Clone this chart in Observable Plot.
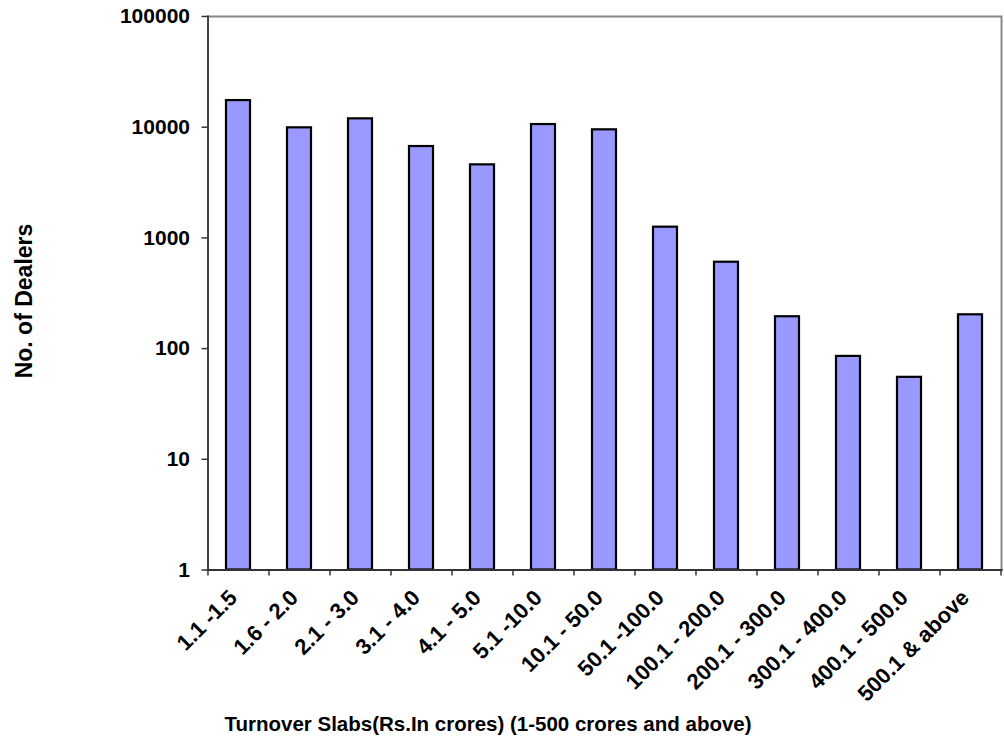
<!DOCTYPE html>
<html><head><meta charset="utf-8">
<script src="https://cdn.jsdelivr.net/npm/d3@7"></script>
<script src="https://cdn.jsdelivr.net/npm/@observablehq/plot@0.6"></script>
<style>
body{margin:0;background:#fff;}
#wrap{position:relative;width:1004px;height:741px;font-family:"Liberation Sans",Arial,sans-serif;font-weight:bold;color:#000;}
#ylab{position:absolute;left:24px;top:301px;transform:translate(-50%,-50%) rotate(-90deg);font-size:23px;white-space:nowrap;}
#xlab{position:absolute;left:488px;top:724px;transform:translate(-50%,-50%);font-size:20.5px;white-space:nowrap;}
</style></head><body>
<div id="wrap"><div id="chart"></div><div id="ylab">No. of Dealers</div><div id="xlab">Turnover Slabs(Rs.In crores) (1-500 crores and above)</div></div>
<script>
const slabs = ["1.1 -1.5","1.6 - 2.0","2.1 - 3.0","3.1 - 4.0","4.1 - 5.0","5.1 -10.0","10.1 - 50.0","50.1 -100.0","100.1 - 200.0","200.1 - 300.0","300.1 - 400.0","400.1 - 500.0","500.1 & above"];
const dealers = [17400, 9870, 11900, 6690, 4570, 10570, 9470, 1250, 603, 194, 85, 55, 202];
const yTicks = [1, 10, 100, 1000, 10000, 100000];

const W = 1004, H = 741, mL = 207.5, mR = 3, mT = 16, mB = 171.5;
const step = (W - mL - mR) / slabs.length;
const data = slabs.map((s, i) => ({slab: s, n: dealers[i]}));

const chart = Plot.plot({
  width: W, height: H,
  marginLeft: mL, marginRight: mR, marginTop: mT, marginBottom: mB,
  style: {fontFamily: "'Liberation Sans', Arial, sans-serif", fontWeight: "bold", fontSize: "21px", color: "#000", background: "#fff", overflow: "visible"},
  x: {domain: slabs, paddingInner: 0.6, paddingOuter: 0.3, label: null},
  y: {type: "log", domain: [1, 100000], label: null},
  marks: [
    Plot.frame({stroke: "#888", strokeWidth: 2}),
    Plot.barY(data, {x: "slab", y1: 1, y2: "n", fill: "#9999ff", stroke: "#000", strokeWidth: 2.2}),
    Plot.frame({anchor: "left", stroke: "#444", strokeWidth: 2}),
    Plot.frame({anchor: "bottom", stroke: "#333", strokeWidth: 2}),
    Plot.axisY({ticks: yTicks, tickFormat: d => String(d), tickSize: 6, tickPadding: 12, stroke: "#333", strokeWidth: 1.5, fontSize: 21, label: null}),
    Plot.axisX({ticks: slabs, tickSize: 6, tickFormat: () => "", dx: -step / 2, stroke: "#333", strokeWidth: 1.5, label: null}),
    Plot.axisX({ticks: [slabs[slabs.length - 1]], tickSize: 6, tickFormat: () => "", dx: step / 2, stroke: "#333", strokeWidth: 1.5, label: null}),
    Plot.axisX({ticks: slabs, tickSize: 0, tickPadding: 24, tickRotate: -45, fontSize: 22, dx: -5, label: null})
  ]
});
document.getElementById("chart").appendChild(chart);
</script>
</body></html>
